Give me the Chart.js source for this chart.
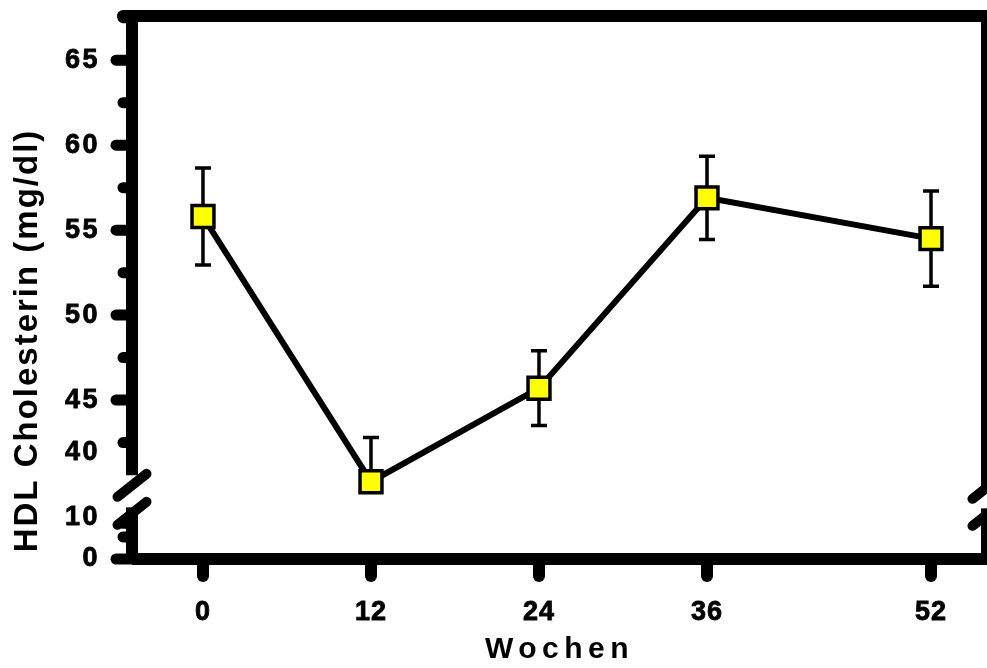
<!DOCTYPE html>
<html>
<head>
<meta charset="utf-8">
<script src="https://cdn.jsdelivr.net/npm/chart.js@4"></script>
<style>
  html, body { margin: 0; padding: 0; background: #fff; }
  #wrap { width: 987px; height: 668px; }
</style>
</head>
<body>
<div id="wrap"><canvas id="hdlChart"></canvas></div>
<script>
const weeks = [0, 12, 24, 36, 52];
const hdlMean = [55.8, 40.2, 45.7, 56.9, 54.5];
const hdlSem = [2.85, 2.6, 2.2, 2.45, 2.8];

// y axis unit = mg/dl of the upper part, the part below the break is squeezed
const yMin = 35.65;
const yMax = 67.6;
const yBreak = 39.1;
const yLabels = ["0", "10", "40", "45", "50", "55", "60", "65"];
const yLabelPos = [35.65, 38.1, 41.9, 45, 50, 55, 60, 65];
const yMajor = [35.65, 45, 50, 55, 60, 65];
const yMinor = [36.95, 37.75, 42.5, 47.5, 52.5, 57.5, 62.5, 67.5];

const FONT = "'Liberation Sans', Arial, sans-serif";

function wrapScale(scale, fn, spacing, dy) {
  if (!scale || scale["_w_" + fn]) return;
  const orig = scale[fn];
  scale["_w_" + fn] = true;
  scale[fn] = function (...args) {
    const ctx = this.ctx;
    ctx.save();
    ctx.letterSpacing = spacing;
    ctx.translate(0, dy);
    orig.apply(this, args);
    ctx.restore();
  };
}

const spacedText = {
  id: "spacedText",
  beforeDraw(chart) {
    wrapScale(chart.scales.x, "drawTitle", "5.5px", 0);
    wrapScale(chart.scales.x, "drawLabels", "1px", 0);
    wrapScale(chart.scales.y, "drawTitle", "2px", 53);
    wrapScale(chart.scales.y, "drawLabels", "2.5px", 0);
  },
};

// frame, axis break, tick marks and error bars
const frame = {
  id: "frame",
  beforeDatasetsDraw(chart) {
    const { ctx, chartArea: a, scales: { x, y } } = chart;
    const c = y.getPixelForValue(yBreak);
    const line = (x1, y1, x2, y2, w, cap) => {
      ctx.lineWidth = w;
      ctx.lineCap = cap;
      ctx.beginPath();
      ctx.moveTo(x1, y1);
      ctx.lineTo(x2, y2);
      ctx.stroke();
    };
    ctx.save();
    ctx.strokeStyle = "#000";

    line(a.left - 9, a.top, a.right + 6, a.top, 12, "round");
    line(a.left, a.bottom, a.right + 6, a.bottom, 12, "butt");
    line(a.left, a.top, a.left, c - 25, 12, "butt");
    line(a.left, c + 7, a.left, a.bottom, 12, "butt");
    line(a.right, a.top, a.right, c - 10, 12, "butt");
    line(a.right, c + 8, a.right, a.bottom + 6, 12, "butt");

    yMajor.forEach((v) => {
      const p = y.getPixelForValue(v);
      line(a.left, p, a.left - 16, p, 11, "round");
    });
    yMinor.forEach((v) => {
      const p = y.getPixelForValue(v);
      line(a.left, p, a.left - 9, p, 11, "round");
    });
    weeks.forEach((w) => {
      const p = x.getPixelForValue(w);
      line(p, a.bottom, p, a.bottom + 17, 12, "round");
    });

    // break marks
    [
      [a.left, c - 15],
      [a.left, c + 13],
      [a.right, c - 13],
      [a.right, c + 14],
    ].forEach(([sx, sy]) => line(sx - 14.5, sy + 11.5, sx + 14.5, sy - 11.5, 10, "round"));

    // error bars (SEM)
    ctx.lineWidth = 3.5;
    ctx.lineCap = "butt";
    weeks.forEach((w, i) => {
      const px = x.getPixelForValue(w);
      const hi = hdlMean[i] + hdlSem[i];
      let lo = hdlMean[i] - hdlSem[i];
      const cut = lo < yBreak; // lower whisker would end inside the break
      if (cut) lo = hdlMean[i];
      const pHi = y.getPixelForValue(hi);
      const pLo = y.getPixelForValue(lo);
      ctx.beginPath();
      ctx.moveTo(px, pHi);
      ctx.lineTo(px, pLo);
      ctx.moveTo(px - 8, pHi);
      ctx.lineTo(px + 8, pHi);
      if (!cut) {
        ctx.moveTo(px - 8, pLo);
        ctx.lineTo(px + 8, pLo);
      }
      ctx.stroke();
    });
    ctx.restore();
  },
};

new Chart(document.getElementById("hdlChart"), {
  type: "line",
  data: {
    datasets: [
      {
        label: "HDL Cholesterin",
        data: weeks.map((w, i) => ({ x: w, y: hdlMean[i] })),
        borderColor: "#000",
        borderWidth: 6,
        tension: 0,
        pointStyle: "rect",
        pointRadius: 15.5,
        pointHoverRadius: 15.5,
        pointBackgroundColor: "#ffff00",
        pointBorderColor: "#000",
        pointBorderWidth: 3.5,
        clip: false,
      },
    ],
  },
  plugins: [spacedText, frame],
  options: {
    responsive: true,
    maintainAspectRatio: false,
    animation: false,
    events: [],
    layout: { autoPadding: false, padding: { top: 16, left: 0, right: 0, bottom: 0 } },
    plugins: {
      legend: { display: false },
      tooltip: { enabled: false },
    },
    scales: {
      x: {
        type: "linear",
        min: -5.07,
        max: 56,
        afterFit(s) {
          s.height = 109;
          s.paddingLeft = 0;
          s.paddingRight = 0;
        },
        afterBuildTicks(s) {
          s.ticks = weeks.map((w) => ({ value: w }));
        },
        grid: { display: false, drawTicks: false },
        border: { display: false },
        ticks: {
          padding: 37,
          autoSkip: false,
          maxRotation: 0,
          color: "#000",
          textStrokeColor: "#000",
          textStrokeWidth: 0.8,
          font: { family: FONT, size: 27, weight: "bold" },
          callback: (v) => String(v),
        },
        title: {
          display: true,
          text: "Wochen",
          color: "#000",
          padding: { top: 0, bottom: 0 },
          font: { family: FONT, size: 30, weight: "bold" },
        },
      },
      y: {
        type: "linear",
        min: yMin,
        max: yMax,
        afterFit(s) {
          s.width = 132;
          s.paddingTop = 0;
          s.paddingBottom = 0;
        },
        afterBuildTicks(s) {
          s.ticks = yLabelPos.map((v) => ({ value: v }));
        },
        grid: { display: false, drawTicks: false },
        border: { display: false },
        ticks: {
          padding: 32,
          autoSkip: false,
          color: "#000",
          textStrokeColor: "#000",
          textStrokeWidth: 0.8,
          font: { family: FONT, size: 27, weight: "bold" },
          callback: (v, i) => yLabels[i],
        },
        title: {
          display: true,
          text: "HDL Cholesterin (mg/dl)",
          color: "#000",
          padding: { top: 8, bottom: 0 },
          font: { family: FONT, size: 33, weight: "bold" },
        },
      },
    },
  },
});
</script>
</body>
</html>
